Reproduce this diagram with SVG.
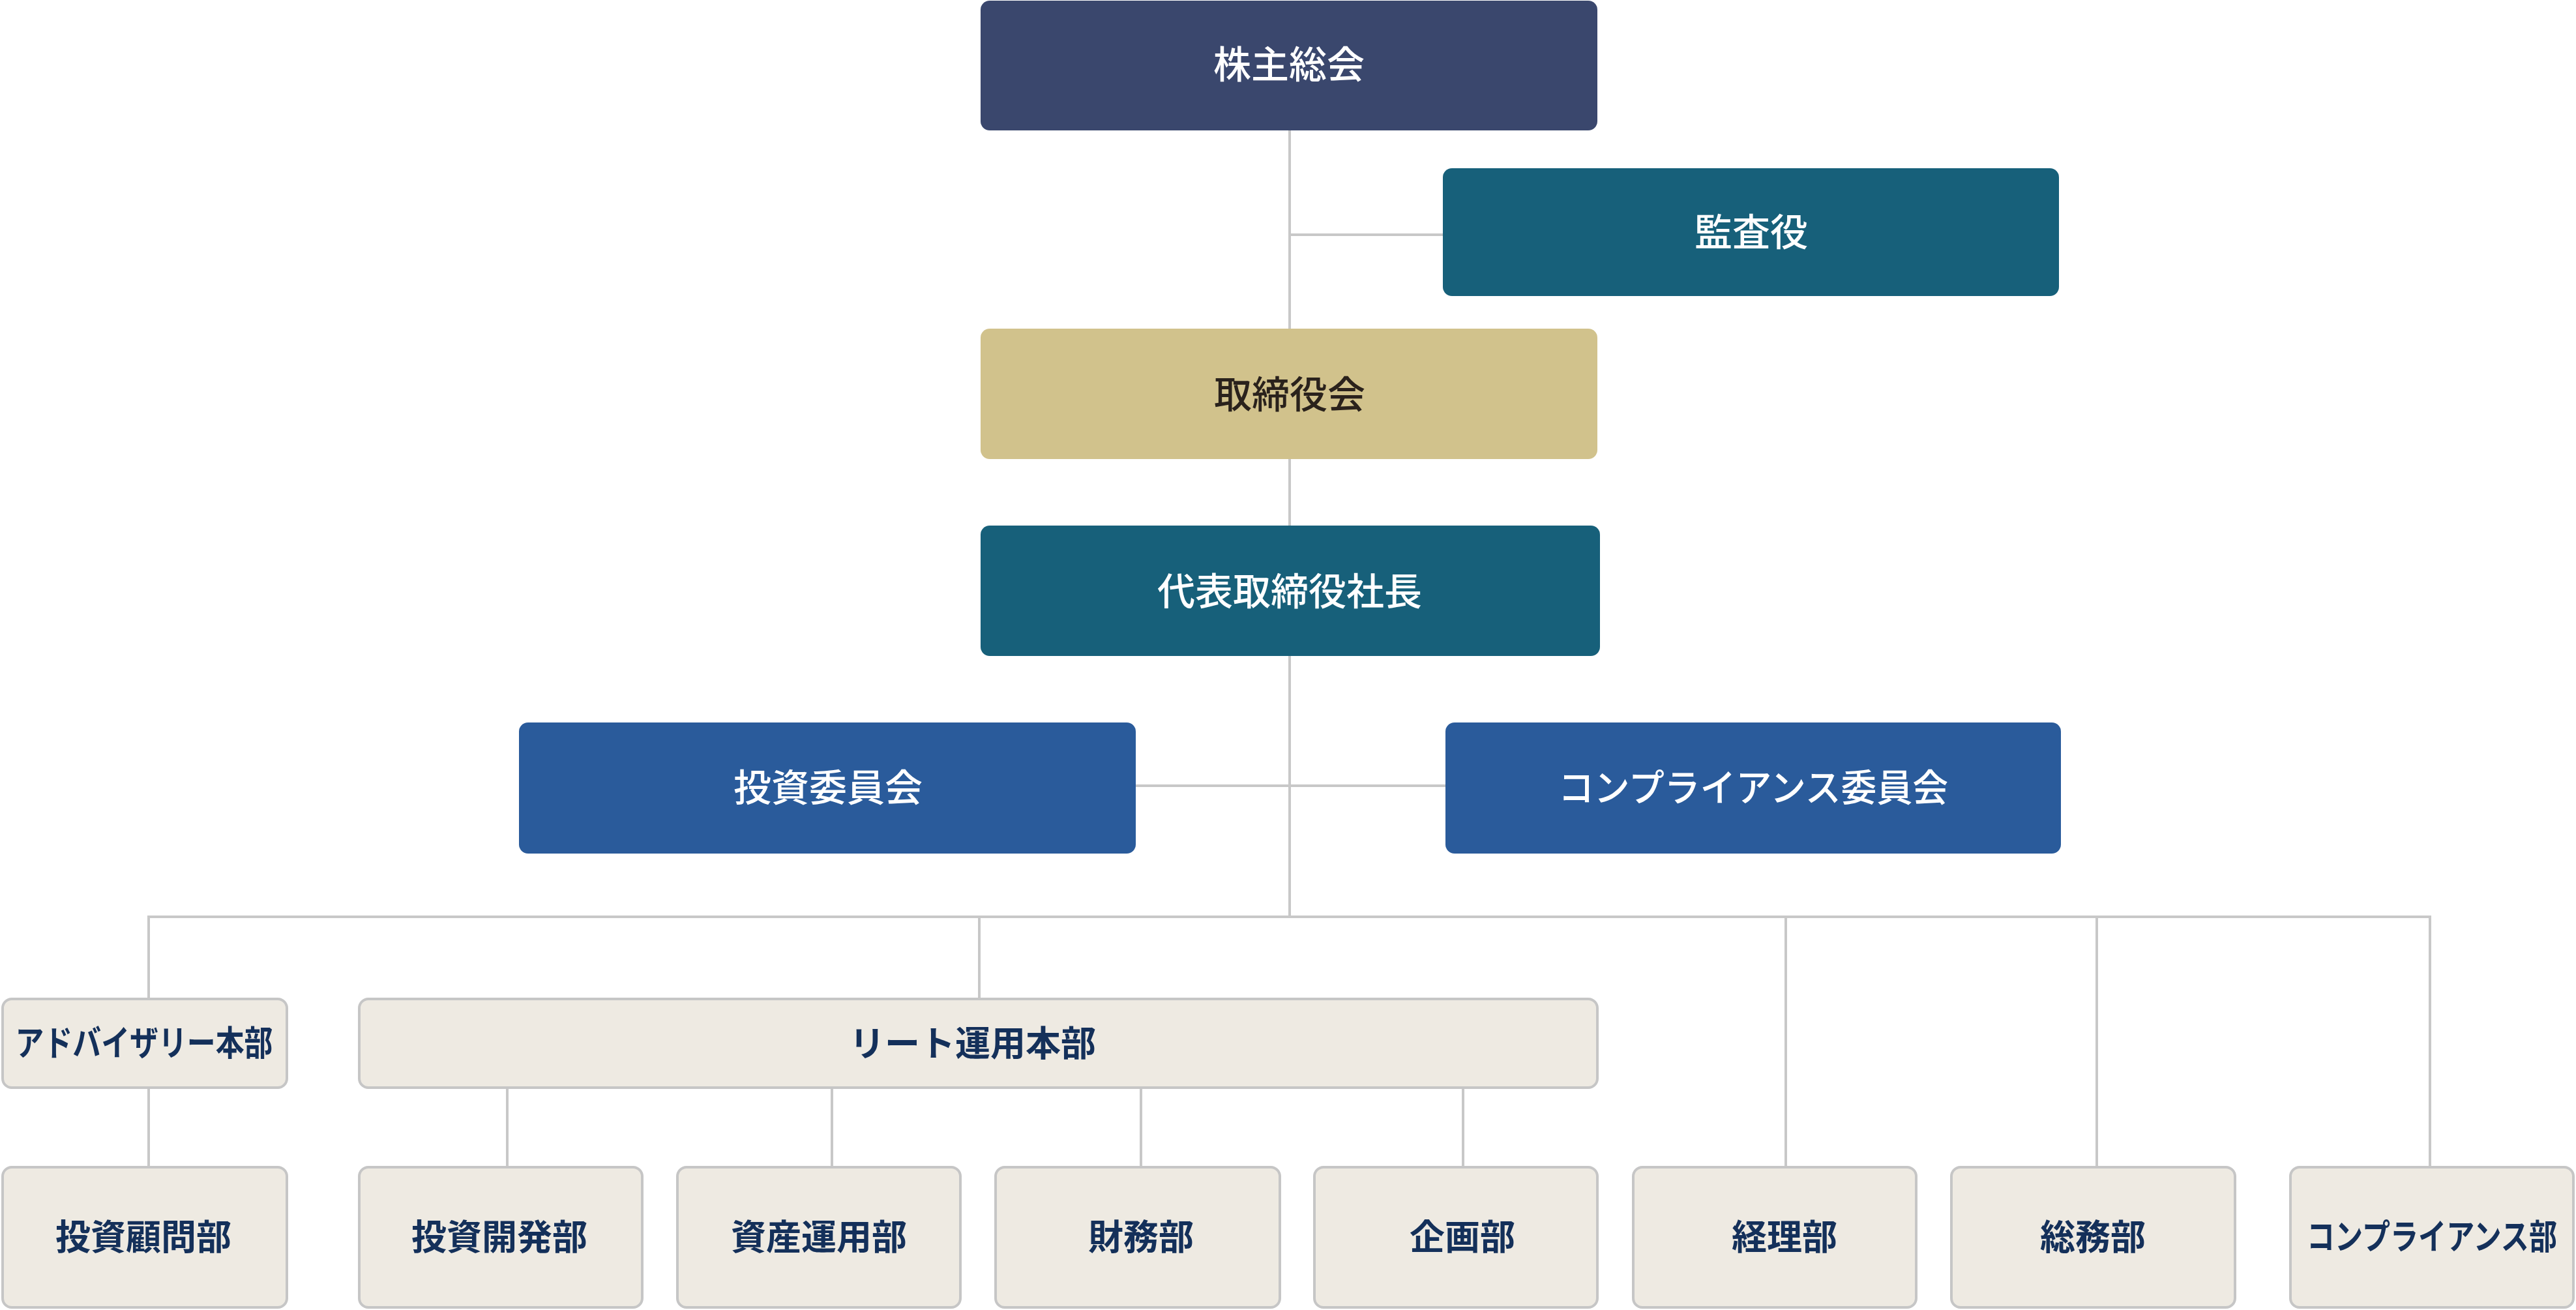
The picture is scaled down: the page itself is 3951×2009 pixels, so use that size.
<svg xmlns="http://www.w3.org/2000/svg" width="3951" height="2009" viewBox="0 0 3951 2009">
<style>
text{font-family:"Noto Sans CJK JP","Noto Sans",sans-serif;text-anchor:middle;dominant-baseline:central}
.top{font-size:58px;font-weight:500;fill:#ffffff}
.dark{fill:#2a221c}
.lt rect{fill:#eeeae2;stroke:#c6c6c6;stroke-width:4}
.lt text{font-size:54px;font-weight:700;fill:#14305a}
.lt text.nar{font-size:47px}
.conn{fill:none;stroke:#c8c8c8;stroke-width:4}
</style>
<rect width="3951" height="2009" fill="#ffffff"/>
<g id="connectors" class="conn">
<path d="M1978 200V1406"/>
<path d="M1978 360H2213"/>
<path d="M1742 1205H2217"/>
<path d="M228 1530V1406H3727V1788"/>
<path d="M1502 1406V1530"/>
<path d="M2739 1406V1788"/>
<path d="M3216 1406V1788"/>
<path d="M228 1668V1788"/>
<path d="M778 1668V1788"/>
<path d="M1276 1668V1788"/>
<path d="M1750 1668V1788"/>
<path d="M2244 1668V1788"/>
</g>
<g id="n-shareholders"><rect x="1504" y="1" width="946" height="199" rx="14" fill="#3a476d"/><text class="top" x="1977" y="95">株主総会</text></g>
<g id="n-auditor"><rect x="2213" y="258" width="945" height="196" rx="14" fill="#17607a"/><text class="top" x="2686" y="352">監査役</text></g>
<g id="n-board"><rect x="1504" y="504" width="946" height="200" rx="14" fill="#d1c28c"/><text class="top dark" x="1978" y="601">取締役会</text></g>
<g id="n-president"><rect x="1504" y="806" width="950" height="200" rx="14" fill="#17607a"/><text class="top" x="1978" y="903">代表取締役社長</text></g>
<g id="n-invcom"><rect x="796" y="1108" width="946" height="201" rx="14" fill="#2a5b9b"/><text class="top" x="1270" y="1204">投資委員会</text></g>
<g id="n-compcom"><rect x="2217" y="1108" width="944" height="201" rx="14" fill="#2a5b9b"/><text class="top" x="2689" y="1204" textLength="598" lengthAdjust="spacingAndGlyphs">コンプライアンス委員会</text></g>
<g id="n-advisory" class="lt"><rect x="4" y="1532" width="436" height="136" rx="14"/><text class="nar" transform="translate(221 1596) scale(1 1.149)" x="0" y="0" textLength="395" lengthAdjust="spacingAndGlyphs">アドバイザリー本部</text></g>
<g id="n-reit" class="lt"><rect x="551" y="1532" width="1899" height="136" rx="14"/><text x="1492" y="1596">リート運用本部</text></g>
<g id="n-invadv" class="lt"><rect x="4" y="1790" width="436" height="215" rx="14"/><text x="220" y="1893">投資顧問部</text></g>
<g id="n-invdev" class="lt"><rect x="551" y="1790" width="434" height="215" rx="14"/><text x="766" y="1893">投資開発部</text></g>
<g id="n-asset" class="lt"><rect x="1039" y="1790" width="434" height="215" rx="14"/><text x="1256" y="1893">資産運用部</text></g>
<g id="n-finance" class="lt"><rect x="1527" y="1790" width="436" height="215" rx="14"/><text x="1750" y="1893">財務部</text></g>
<g id="n-planning" class="lt"><rect x="2016" y="1790" width="434" height="215" rx="14"/><text x="2243" y="1893">企画部</text></g>
<g id="n-accounting" class="lt"><rect x="2505" y="1790" width="434" height="215" rx="14"/><text x="2737" y="1893">経理部</text></g>
<g id="n-general" class="lt"><rect x="2993" y="1790" width="435" height="215" rx="14"/><text x="3210" y="1893">総務部</text></g>
<g id="n-compliance" class="lt"><rect x="3513" y="1790" width="434" height="215" rx="14"/><text class="nar" transform="translate(3730 1893) scale(1 1.149)" x="0" y="0" textLength="384" lengthAdjust="spacingAndGlyphs">コンプライアンス部</text></g>
</svg>
